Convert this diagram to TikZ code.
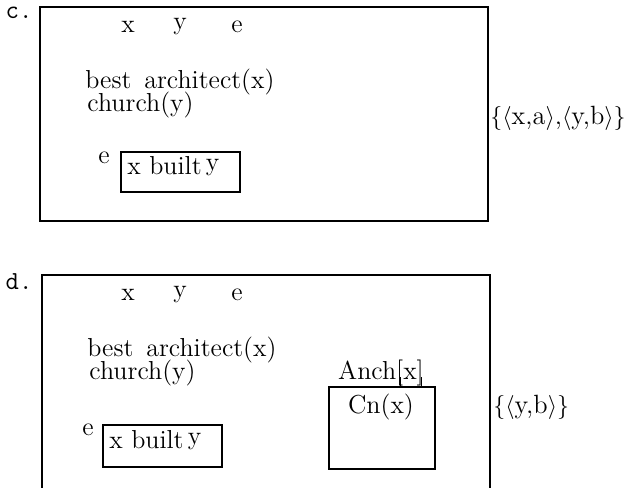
\documentclass[tikz,border=0pt]{standalone}
\begin{document}
\begin{tikzpicture}[x=0.5pt,y=-0.5pt,
  txt/.style={inner sep=0pt,font=\fontsize{13}{15}\selectfont},
  settxt/.style={inner sep=0pt,font=\fontsize{13.2}{16}\selectfont},
  lbl/.style={inner sep=0pt,font=\fontsize{13}{15}\selectfont\ttfamily},
  boxline/.style={line width=0.8pt}]
\useasboundingbox (0,0) rectangle (633,488);
% ---- c ----
\node[lbl] (clab) at (19,13) {c.};
\draw[boxline] (40,7) rectangle (488,221);
\node[txt] (cx) at (128,27) {x};
\node[txt] (cy) at (180,27) {y};
\node[txt] (ce) at (237,27) {e};
\node[txt,anchor=west] (cba) at (85,82) {best\, architect(x)};
\node[txt,anchor=west] (cch) at (87,105) {church(y)};
\node[txt] (ce2) at (104,158) {e};
\draw[boxline] (121,152) rectangle (240,192);
\node[txt,anchor=west] (cbuilt) at (127,166) {x built\,\raisebox{2pt}{y}};
\node[settxt,anchor=west] (cset) at (490,118) {$\{\langle$x,a$\rangle$,$\langle$y,b$\rangle\}$};
% ---- d ----
\node[lbl] (dlab) at (19,282) {d.};
\draw[boxline] (42,500) -- (42,275) -- (490,275) -- (490,500);
\node[txt] (dx) at (128,295) {x};
\node[txt] (dy) at (180,295) {y};
\node[txt] (de) at (237,295) {e};
\node[txt,anchor=west] (dba) at (87,350) {best\, architect(x)};
\node[txt,anchor=west] (dch) at (89,373) {church(y)};
\node[txt] (de2) at (88,430) {e};
\draw[boxline] (103,425) rectangle (222,467);
\node[txt,anchor=west] (dbuilt) at (109,440) {x built\,\raisebox{2pt}{y}};
\node[txt] (anch) at (381,373) {Anch[x]};
\draw[boxline] (329,387) rectangle (435,469);
\draw[line width=0.6pt] (400.5,377) -- (400.5,387);
\draw[line width=0.6pt] (421.5,377) -- (421.5,387);
\node[txt] (cn) at (381,407) {Cn(x)};
\node[settxt,anchor=west] (dset) at (493,407) {$\{\langle$y,b$\rangle\}$};
\end{tikzpicture}
\end{document}
